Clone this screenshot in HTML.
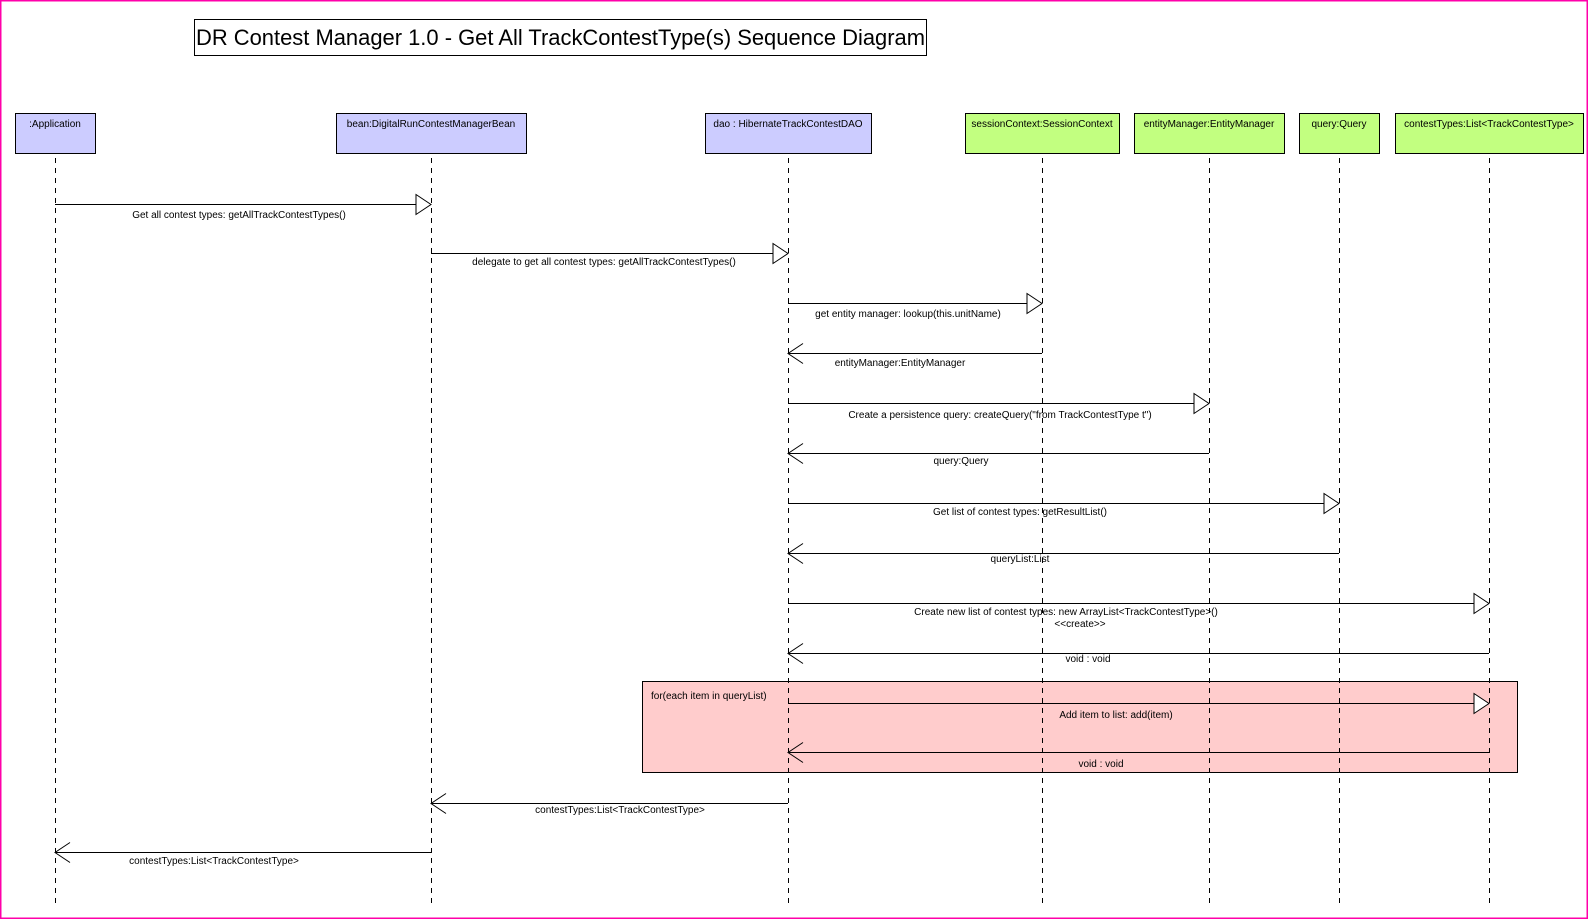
<!DOCTYPE html>
<html><head><meta charset="utf-8"><style>
html,body{margin:0;padding:0;background:#fff;}
svg{display:block;}
text{font-family:"Liberation Sans",sans-serif;fill:#000;}
.l{font-size:10px;text-anchor:middle;}
.b{font-size:10px;text-anchor:middle;}
</style></head><body>
<svg width="1588" height="919" viewBox="0 0 1588 919" xmlns="http://www.w3.org/2000/svg">
<rect x="0.5" y="0.5" width="1587" height="918" fill="#fff" stroke="#f0a" stroke-width="2"/>
<rect x="194.5" y="19.5" width="732" height="36" fill="#fff" stroke="#000"/>
<text x="196" y="45" font-size="22" textLength="729" lengthAdjust="spacingAndGlyphs">DR Contest Manager 1.0 - Get All TrackContestType(s) Sequence Diagram</text>

<g stroke="#000" stroke-width="1">
<rect x="15.5" y="113.5" width="80" height="40" fill="#ccccff"/>
<rect x="336.5" y="113.5" width="190" height="40" fill="#ccccff"/>
<rect x="705.5" y="113.5" width="166" height="40" fill="#ccccff"/>
<rect x="965.5" y="113.5" width="154" height="40" fill="#c2ff80"/>
<rect x="1134.5" y="113.5" width="150" height="40" fill="#c2ff80"/>
<rect x="1299.5" y="113.5" width="80" height="40" fill="#c2ff80"/>
<rect x="1395.5" y="113.5" width="188" height="40" fill="#c2ff80"/>
<rect x="642.5" y="681.5" width="875" height="91" fill="#ffcccc"/>
</g>
<g>
<text class="b" x="55" y="127">:Application</text>
<text class="b" x="431" y="127">bean:DigitalRunContestManagerBean</text>
<text class="b" x="788" y="127">dao : HibernateTrackContestDAO</text>
<text class="b" x="1042" y="127">sessionContext:SessionContext</text>
<text class="b" x="1209" y="127">entityManager:EntityManager</text>
<text class="b" x="1339" y="127">query:Query</text>
<text class="b" x="1489" y="127">contestTypes:List&lt;TrackContestType&gt;</text>
</g>
<text x="651" y="699" font-size="10">for(each item in queryList)</text>

<g stroke="#000" stroke-dasharray="5,5" stroke-width="1">
<line x1="55.5" y1="158" x2="55.5" y2="908"/>
<line x1="431.5" y1="158" x2="431.5" y2="908"/>
<line x1="788.5" y1="158" x2="788.5" y2="908"/>
<line x1="1042.5" y1="158" x2="1042.5" y2="908"/>
<line x1="1209.5" y1="158" x2="1209.5" y2="908"/>
<line x1="1339.5" y1="158" x2="1339.5" y2="908"/>
<line x1="1489.5" y1="158" x2="1489.5" y2="908"/>
</g>

<g stroke="#000" stroke-width="1" fill="#fff">
<line x1="55" y1="204.5" x2="416" y2="204.5"/><polygon points="416,194.5 431,204.5 416,214.5"/>
<line x1="431" y1="253.5" x2="773" y2="253.5"/><polygon points="773,243.5 788,253.5 773,263.5"/>
<line x1="788" y1="303.5" x2="1027" y2="303.5"/><polygon points="1027,293.5 1042,303.5 1027,313.5"/>
<line x1="788" y1="403.5" x2="1194" y2="403.5"/><polygon points="1194,393.5 1209,403.5 1194,413.5"/>
<line x1="788" y1="503.5" x2="1324" y2="503.5"/><polygon points="1324,493.5 1339,503.5 1324,513.5"/>
<line x1="788" y1="603.5" x2="1474" y2="603.5"/><polygon points="1474,593.5 1489,603.5 1474,613.5"/>
<line x1="788" y1="703.5" x2="1474" y2="703.5"/><polygon points="1474,693.5 1489,703.5 1474,713.5"/>
<line x1="1042" y1="353.5" x2="788" y2="353.5"/><polyline fill="none" points="803,343.5 788,353.5 803,363.5"/>
<line x1="1209" y1="453.5" x2="788" y2="453.5"/><polyline fill="none" points="803,443.5 788,453.5 803,463.5"/>
<line x1="1339" y1="553.5" x2="788" y2="553.5"/><polyline fill="none" points="803,543.5 788,553.5 803,563.5"/>
<line x1="1489" y1="653.5" x2="788" y2="653.5"/><polyline fill="none" points="803,643.5 788,653.5 803,663.5"/>
<line x1="1489" y1="752.5" x2="788" y2="752.5"/><polyline fill="none" points="803,742.5 788,752.5 803,762.5"/>
<line x1="788" y1="803.5" x2="431" y2="803.5"/><polyline fill="none" points="446,793.5 431,803.5 446,813.5"/>
<line x1="431" y1="852.5" x2="55" y2="852.5"/><polyline fill="none" points="70,842.5 55,852.5 70,862.5"/>
</g>

<g>
<text class="l" x="239" y="218">Get all contest types: getAllTrackContestTypes()</text>
<text class="l" x="604" y="265">delegate to get all contest types: getAllTrackContestTypes()</text>
<text class="l" x="908" y="317">get entity manager: lookup(this.unitName)</text>
<text class="l" x="900" y="366">entityManager:EntityManager</text>
<text class="l" x="1000" y="418">Create a persistence query: createQuery("from TrackContestType t")</text>
<text class="l" x="961" y="464">query:Query</text>
<text class="l" x="1020" y="515">Get list of contest types: getResultList()</text>
<text class="l" x="1020" y="562">queryList:List</text>
<text class="l" x="1066" y="615">Create new list of contest types: new ArrayList&lt;TrackContestType&gt;()</text>
<text class="l" x="1080" y="627">&lt;&lt;create&gt;&gt;</text>
<text class="l" x="1088" y="662">void : void</text>
<text class="l" x="1116" y="718">Add item to list: add(item)</text>
<text class="l" x="1101" y="767">void : void</text>
<text class="l" x="620" y="813">contestTypes:List&lt;TrackContestType&gt;</text>
<text class="l" x="214" y="864">contestTypes:List&lt;TrackContestType&gt;</text>
</g>
</svg>
</body></html>
